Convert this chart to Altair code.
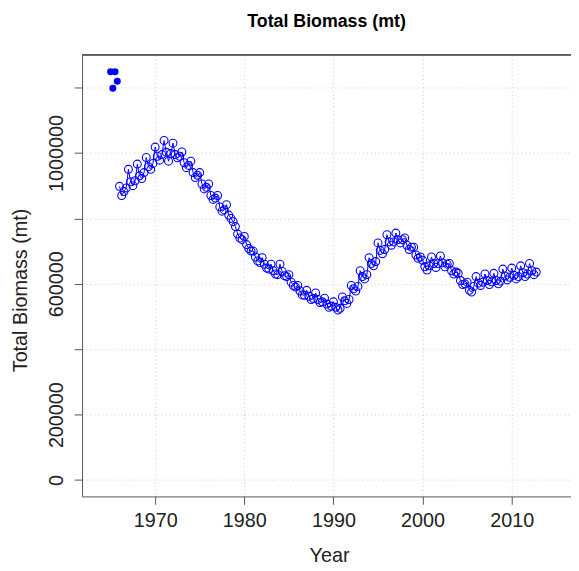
import altair as alt
import pandas as pd

# ---- data (thousands of mt) ----
years = list(range(1966, 2013))
season1 = [898, 950, 966, 986, 1018, 1038, 1030, 1003, 975, 940, 905, 870, 842, 775, 745, 700,
           680, 660, 660, 628, 595, 580, 572, 556, 545, 560, 595, 640, 680, 725, 750, 755,
           740, 712, 672, 682, 685, 662, 632, 605, 622, 630, 632, 645, 648, 655, 662]
season2 = [870, 912, 930, 958, 990, 1002, 995, 970, 940, 905, 870, 835, 810, 752, 720, 682,
           660, 640, 638, 605, 578, 562, 552, 538, 528, 548, 585, 622, 662, 702, 728, 735,
           718, 688, 652, 662, 664, 640, 610, 580, 602, 610, 610, 624, 626, 634, 640]
season3 = [882, 900, 922, 950, 978, 975, 985, 955, 925, 890, 858, 822, 800, 740, 708, 670,
           648, 630, 625, 595, 566, 552, 543, 528, 520, 540, 578, 615, 655, 692, 718, 725,
           705, 678, 642, 650, 652, 630, 598, 575, 595, 598, 600, 612, 615, 622, 628]
season4 = [893, 915, 940, 968, 995, 998, 990, 962, 932, 895, 862, 826, 790, 735, 700, 665,
           645, 628, 622, 590, 565, 555, 545, 532, 525, 552, 592, 628, 668, 705, 728, 735,
           712, 682, 655, 662, 660, 636, 600, 592, 605, 606, 608, 620, 622, 630, 636]

init_time = [1965.0, 1965.25, 1965.5, 1965.75]
init_biomass = [1248000, 1198000, 1248000, 1219000]

x_ticks = [1970, 1980, 1990, 2000, 2010]
y_ticks = [0, 200000, 400000, 600000, 800000, 1000000, 1200000]

rows = []
for i, yr in enumerate(years):
    for s, vals in enumerate([season1, season2, season3, season4]):
        rows.append({"time": yr + s * 0.25, "biomass": vals[i] * 1000})
df = pd.DataFrame(rows)
df_init = pd.DataFrame({"time": init_time, "biomass": init_biomass})

W, H = 495, 447
BLUE = "#0000FF"
FONT = "Liberation Sans"

xscale = alt.Scale(domain=[1961.8, 2016.65], nice=False, zero=False)
yscale = alt.Scale(domain=[-49850, 1299700], nice=False, zero=False)

xaxis = alt.Axis(values=x_ticks, format="d", grid=True, gridColor="#CCCCCC", gridDash=[1, 3],
                 gridWidth=1, domainColor="#555555", tickColor="#555555", tickSize=8,
                 labelFontSize=20, labelFont=FONT, labelColor="#222222", labelPadding=6,
                 labelFlush=False, labelOverlap=False,
                 title="Year", titleFont=FONT, titleFontSize=20, titleFontWeight="normal",
                 titleColor="#222222", titleBaseline="alphabetic", titleY=66, titleX=250)
yaxis = alt.Axis(values=y_ticks, format="d", grid=True, gridColor="#CCCCCC", gridDash=[1, 3],
                 gridWidth=1, domainColor="#555555", tickColor="#555555", tickSize=8,
                 labelFontSize=20, labelFont=FONT, labelColor="#222222", labelAngle=-90,
                 labelAlign="center", labelBaseline="bottom", labelPadding=8,
                 labelFlush=False, labelOverlap=False,
                 labelExpr="(datum.value == 0 || datum.value % 400000 == 200000) ? datum.label : ''",
                 title="Total Biomass (mt)", titleFont=FONT, titleFontSize=20,
                 titleFontWeight="normal", titleColor="#222222", titleBaseline="alphabetic",
                 titleX=-56, titleY=238)

x = alt.X("time:Q", scale=xscale, axis=xaxis)
y = alt.Y("biomass:Q", scale=yscale, axis=yaxis)

line = alt.Chart(df).mark_line(color=BLUE, strokeWidth=1).encode(x=x, y=y)
pts = alt.Chart(df).mark_point(shape="circle", filled=False, color=BLUE, size=64,
                               strokeWidth=1.1, opacity=1).encode(x=x, y=y)
init = alt.Chart(df_init).mark_circle(color=BLUE, size=50, opacity=1).encode(x=x, y=y)
top = alt.Chart(df_init).mark_rule(color="#555555", strokeWidth=1).encode(
    x=alt.value(0), x2=alt.value(W), y=alt.value(0))

chart = alt.layer(line, pts, init, top).properties(
    width=W, height=H,
    title=alt.TitleParams("Total Biomass (mt)", font=FONT, fontSize=18, fontWeight="bold",
                          color="#000000", anchor="middle", baseline="alphabetic",
                          frame="group", offset=10),
    autosize=alt.AutoSizeParams(type="none"),
    padding={"left": 75, "top": 44, "right": 0, "bottom": 70},
).configure_view(stroke=None)

chart.save("out.html", embed_options={"renderer": "svg", "actions": False})
